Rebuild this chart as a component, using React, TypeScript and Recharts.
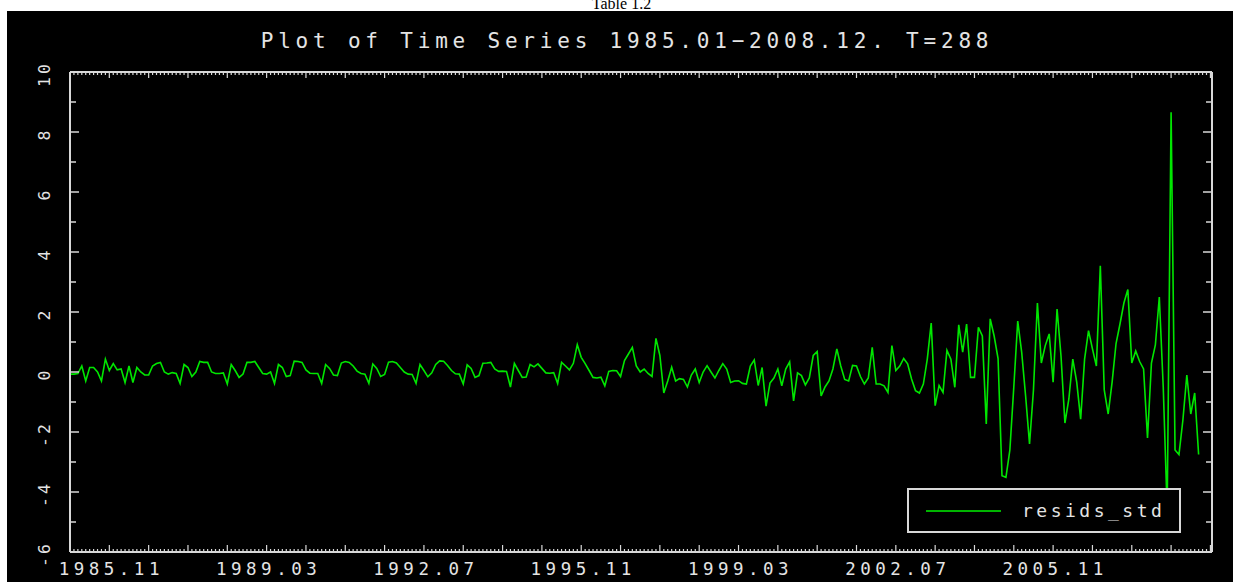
import { LineChart, Line, XAxis, YAxis, Legend } from 'recharts';

const FRAME = '#d8d8d8';
const TEXT = '#e4e4e4';
const GREEN = '#00e600';
const MONO = '"DejaVu Sans Mono", monospace';

// standardized residuals, one value per month, 1985.01 - 2008.12
const resids1985to1988 = [
  -0.07, -0.07, -0.05, 0.2, -0.3, 0.15, 0.15, 0.0, -0.3, 0.43, 0.05, 0.28,
  0.07, 0.1, -0.35, 0.2, -0.35, 0.15, 0.0, -0.1, -0.1, 0.2, 0.28, 0.32,
  0.0, -0.07, -0.02, -0.05, -0.38, 0.25, 0.15, -0.15, 0.0, 0.35, 0.32, 0.32,
  0.0, -0.05, -0.05, -0.03, -0.4, 0.25, 0.05, -0.18, -0.07, 0.32, 0.32, 0.35,
];
const resids1989to1992 = [
  0.15, -0.05, -0.07, 0.0, -0.38, 0.25, 0.15, -0.15, -0.12, 0.36, 0.35, 0.32,
  0.07, -0.04, -0.05, -0.05, -0.38, 0.25, 0.12, -0.1, -0.12, 0.3, 0.35, 0.32,
  0.2, 0.03, -0.05, -0.07, -0.38, 0.27, 0.12, -0.15, -0.08, 0.33, 0.35, 0.3,
  0.15, 0.0, -0.07, -0.08, -0.38, 0.25, 0.05, -0.16, -0.03, 0.25, 0.37, 0.36,
];
const resids1993to1996 = [
  0.22, 0.05, -0.06, -0.07, -0.4, 0.24, 0.12, -0.18, -0.12, 0.29, 0.3, 0.32,
  0.1, 0.02, 0.03, 0.02, -0.5, 0.29, 0.05, -0.18, -0.17, 0.25, 0.17, 0.27,
  0.12, -0.03, -0.04, -0.02, -0.38, 0.32, 0.2, 0.07, 0.29, 0.91, 0.49, 0.28,
  0.05, -0.18, -0.2, -0.17, -0.46, 0.02, 0.05, 0.04, -0.15, 0.38, 0.6, 0.82,
];
const resids1997to2000 = [
  0.2, 0.0, 0.1, -0.05, -0.15, 1.12, 0.55, -0.7, -0.3, 0.16, -0.3, -0.22,
  -0.25, -0.5, -0.1, 0.1, -0.35, 0.0, 0.21, 0.0, -0.2, 0.05, 0.28, 0.1,
  -0.35, -0.3, -0.29, -0.38, -0.4, 0.2, 0.4, -0.45, 0.15, -1.14, -0.37, -0.2,
  0.1, -0.46, 0.1, 0.34, -0.96, -0.03, -0.12, -0.43, -0.2, 0.55, 0.68, -0.8,
];
const resids2001to2004 = [
  -0.5, -0.3, 0.1, 0.77, 0.2, -0.25, -0.3, 0.22, 0.2, -0.15, -0.4, -0.2,
  0.82, -0.4, -0.4, -0.46, -0.68, 0.88, 0.05, 0.2, 0.45, 0.27, -0.23, -0.62,
  -0.7, -0.4, 0.43, 1.63, -1.12, -0.45, -0.68, 0.72, 0.43, -0.51, 1.57, 0.66,
  1.6, -0.18, -0.18, 1.49, 1.2, -1.73, 1.77, 1.2, 0.45, -3.46, -3.51, -2.6,
];
const resids2005to2008 = [
  -0.5, 1.7, 0.66, -0.79, -2.4, -0.6, 2.3, 0.3, 0.88, 1.27, -0.34, 2.1,
  0.54, -1.7, -0.9, 0.43, -0.34, -1.57, 0.43, 1.38, 0.77, 0.2, 3.54, -0.6,
  -1.4, -0.34, 0.95, 1.6, 2.3, 2.75, 0.3, 0.7, 0.35, 0.1, -2.2, 0.3,
  0.9, 2.5, -0.5, -4.6, 8.66, -2.6, -2.75, -1.6, -0.1, -1.4, -0.7, -2.75,
];

const yTicks = [-6, -5, -4, -3, -2, -1, 0, 1, 2, 3, 4, 5, 6, 7, 8, 9, 10];
const xLabelMonths = [10, 50, 90, 130, 170, 210, 250];
const xLabels = ['1985.11', '1989.03', '1992.07', '1995.11', '1999.03', '2002.07', '2005.11'];

const residsStd = [
  ...resids1985to1988,
  ...resids1989to1992,
  ...resids1993to1996,
  ...resids1997to2000,
  ...resids2001to2004,
  ...resids2005to2008,
];
const data = residsStd.map((v, t) => ({ t, resids_std: v }));

const X_DOMAIN: [number, number] = [0, 290.4];
// one tick per month, the long ones every ten months
const monthTicks = Array.from({ length: 291 }, (_, i) => i);

function BottomTick({ x, y, payload }: any) {
  const t = payload.value;
  const idx = xLabelMonths.indexOf(t);
  return (
    <g>
      <line x1={x} x2={x} y1={y} y2={y - (t % 10 === 0 ? 7 : 3)} stroke={FRAME} strokeWidth={1.2} />
      {idx >= 0 && (
        <text
          x={x + 2}
          y={y + 17}
          textAnchor="middle"
          dominantBaseline="central"
          fill={TEXT}
          fontFamily={MONO}
          fontSize={17.5}
          letterSpacing={4.5}
        >
          {xLabels[idx]}
        </text>
      )}
    </g>
  );
}

function TopTick({ x, y, payload }: any) {
  const t = payload.value;
  return <line x1={x} x2={x} y1={y} y2={y + (t % 10 === 0 ? 6 : 3)} stroke={FRAME} strokeWidth={1.2} />;
}

function LeftTick({ x, y, payload }: any) {
  const v = payload.value;
  const even = v % 2 === 0;
  return (
    <g>
      <line x1={x} x2={x + (even ? 9 : 6)} y1={y} y2={y} stroke={FRAME} strokeWidth={1.5} />
      {even && (
        <text
          transform={`translate(${x - 26},${y + 2}) rotate(-90)`}
          textAnchor="middle"
          dominantBaseline="central"
          fill={TEXT}
          fontFamily={MONO}
          fontSize={16.5}
          letterSpacing={3}
        >
          {v}
        </text>
      )}
    </g>
  );
}

function RightTick({ x, y, payload }: any) {
  const even = payload.value % 2 === 0;
  return <line x1={x} x2={x - (even ? 9 : 6)} y1={y} y2={y} stroke={FRAME} strokeWidth={1.5} />;
}

function LegendBox({ payload }: any) {
  return (
    <div
      style={{
        boxSizing: 'border-box',
        width: '100%',
        height: '100%',
        border: `2px solid ${FRAME}`,
        background: '#000',
        position: 'relative',
      }}
    >
      {(payload ?? []).map((p: any) => (
        <div key={p.value}>
          <div
            style={{
              position: 'absolute',
              left: 17,
              top: 20,
              width: 75,
              height: 2,
              background: '#00b400',
            }}
          />
          <div
            style={{
              position: 'absolute',
              left: 113,
              top: 9,
              fontFamily: MONO,
              fontSize: 18,
              letterSpacing: 3.5,
              color: TEXT,
              lineHeight: '24px',
              whiteSpace: 'nowrap',
            }}
          >
            {p.value}
          </div>
        </div>
      ))}
    </div>
  );
}

export default function App() {
  return (
    <div style={{ position: 'absolute', left: 0, top: 0, width: 1243, height: 582, background: '#fff', overflow: 'hidden' }}>
      <div
        style={{
          position: 'absolute',
          top: -5,
          left: 0,
          width: 1243,
          textAlign: 'center',
          fontFamily: '"Liberation Serif", serif',
          fontSize: 16,
          lineHeight: '18px',
          color: '#000',
        }}
      >
        Table 1.2
      </div>
      <div style={{ position: 'absolute', left: 7, top: 11, width: 1226, height: 571, background: '#000' }}>
        <LineChart width={1226} height={571} data={data} margin={{ top: 60, right: 20, bottom: 0, left: 0 }}>
          <XAxis
            xAxisId="bottom"
            type="number"
            dataKey="t"
            domain={X_DOMAIN}
            allowDataOverflow
            ticks={monthTicks}
            interval={0}
            height={30}
            tickSize={0}
            tickMargin={0}
            tickLine={false}
            axisLine={{ stroke: FRAME, strokeWidth: 2 }}
            tick={<BottomTick />}
          />
          <XAxis
            xAxisId="top"
            orientation="top"
            type="number"
            dataKey="t"
            domain={X_DOMAIN}
            allowDataOverflow
            ticks={monthTicks}
            interval={0}
            height={1}
            tickSize={0}
            tickMargin={0}
            tickLine={false}
            axisLine={{ stroke: FRAME, strokeWidth: 2 }}
            tick={<TopTick />}
          />
          <YAxis
            yAxisId="left"
            type="number"
            domain={[-6, 10]}
            allowDataOverflow
            ticks={yTicks}
            interval={0}
            width={63}
            tickSize={0}
            tickMargin={0}
            tickLine={false}
            axisLine={{ stroke: FRAME, strokeWidth: 2 }}
            tick={<LeftTick />}
          />
          <YAxis
            yAxisId="right"
            orientation="right"
            type="number"
            domain={[-6, 10]}
            allowDataOverflow
            ticks={yTicks}
            interval={0}
            width={1}
            tickSize={0}
            tickMargin={0}
            tickLine={false}
            axisLine={{ stroke: FRAME, strokeWidth: 2 }}
            tick={<RightTick />}
          />
          <Line
            xAxisId="bottom"
            yAxisId="left"
            type="linear"
            dataKey="resids_std"
            name="resids_std"
            stroke={GREEN}
            strokeWidth={1.6}
            dot={false}
            isAnimationActive={false}
          />
          <Legend
            layout="horizontal"
            verticalAlign="middle"
            align="center"
            content={<LegendBox />}
            wrapperStyle={{ position: 'absolute', left: 900, top: 477, width: 274, height: 45, margin: 0 }}
          />
        </LineChart>
        <div
          style={{
            position: 'absolute',
            left: 620,
            top: 18,
            transform: 'translateX(-50%)',
            whiteSpace: 'nowrap',
            fontFamily: MONO,
            fontSize: 21,
            letterSpacing: 4.8,
            color: TEXT,
            lineHeight: '24px',
          }}
        >
          Plot of Time Series 1985.01−2008.12. T=288
        </div>
      </div>
    </div>
  );
}
